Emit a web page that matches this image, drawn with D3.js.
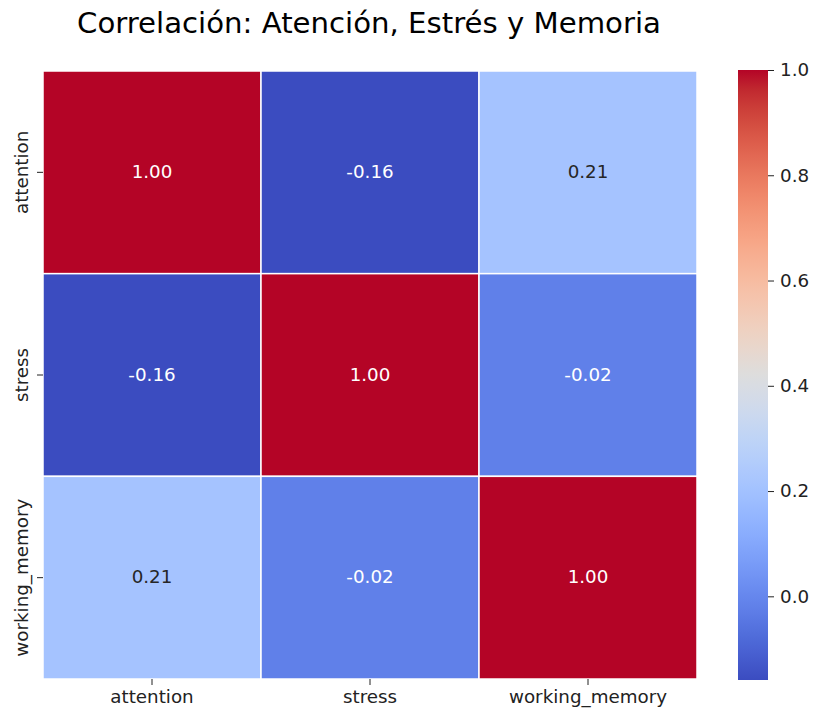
<!DOCTYPE html>
<html><head><meta charset="utf-8">
<script src="https://cdn.jsdelivr.net/npm/d3@7/dist/d3.min.js"></script>
<style>body{margin:0;background:#fff}svg{display:block;font-family:"DejaVu Sans",sans-serif}</style>
</head><body><svg id="c" width="815" height="713"></svg>
<script>
const title = "Correlación: Atención, Estrés y Memoria";
const variables = ["attention", "stress", "working_memory"];
const rowAttention = [1.00, -0.16, 0.21];
const rowStress = [-0.16, 1.00, -0.02];
const rowMemory = [0.21, -0.02, 1.00];
const matrix = [rowAttention, rowStress, rowMemory];
const vmin = -0.159, vmax = 1.0;
const cbarTicks = [0.0, 0.2, 0.4, 0.6, 0.8, 1.0];

// matplotlib coolwarm control points
const cwR=[0.2298057,0.26623388,0.30386891,0.342804478,0.38301334,0.424369608,0.46666708,0.509635204,0.552953156,0.596262162,0.639176211,0.681291281,0.722193294,0.761464949,0.798691636,0.833466556,0.865395197,0.897787179,0.924127593,0.944468518,0.958852946,0.96732803,0.969954137,0.966811177,0.958003065,0.943660866,0.923944917,0.89904617,0.869186849,0.834620542,0.795631745,0.752534934,0.705673158];
const cwG=[0.298717966,0.353094838,0.406535296,0.458757618,0.50941904,0.558148092,0.604562568,0.648280772,0.688929332,0.726149107,0.759599947,0.788964712,0.813952739,0.834302879,0.849786142,0.860207984,0.86541021,0.848937047,0.827384882,0.800927443,0.769767752,0.734132809,0.694266682,0.650421156,0.602842431,0.551750968,0.49730856,0.439559467,0.378313092,0.312874446,0.24128379,0.157246067,0.01555616];
const cwB=[0.753683153,0.801466763,0.84495867,0.883725899,0.917387822,0.945619588,0.968154911,0.98478814,0.995375608,0.999836203,0.998151185,0.990363227,0.976574709,0.956945269,0.931688648,0.901068838,0.865395561,0.820880546,0.774508472,0.726736146,0.678007945,0.628751763,0.579375448,0.530263762,0.481775914,0.434243684,0.387970225,0.343229596,0.300267182,0.259301199,0.220525627,0.184115123,0.150232812];
const cwStops = cwR.map((r,i)=>d3.rgb(r*255,cwG[i]*255,cwB[i]*255).formatHex());
const coolwarm = d3.scaleLinear().domain(d3.range(33).map(i=>i/32)).range(cwStops).interpolate(d3.interpolateRgb).clamp(true);
const norm = d3.scaleLinear().domain([vmin, vmax]).range([0,1]).clamp(true);
const color = v => coolwarm(norm(v));
const fmt2 = v => d3.format(".2f")(v).replace("\u2212","-");

const svg = d3.select("#c");
const L=43, R=697, T=71, B=679;
const FS = 18.3;
const x = d3.scaleBand().domain(variables).range([L,R]);
const y = d3.scaleBand().domain(variables).range([T,B]);

svg.append("text").attr("x",369).attr("y",33).attr("text-anchor","middle")
  .attr("font-size",29.2).attr("fill","#000").text(title);

const cells=[];
matrix.forEach((row,i)=>row.forEach((v,j)=>cells.push({r:variables[i],c:variables[j],v})));
svg.append("g").selectAll("rect").data(cells).join("rect")
  .attr("x",d=>x(d.c)).attr("y",d=>y(d.r)).attr("width",x.bandwidth()).attr("height",y.bandwidth())
  .attr("fill",d=>color(d.v)).attr("stroke","#fff").attr("stroke-width",1.5);

function lum(c){const r=d3.rgb(c);const f=u=>{u/=255;return u<=0.03928?u/12.92:Math.pow((u+0.055)/1.055,2.4)};return 0.2126*f(r.r)+0.7152*f(r.g)+0.0722*f(r.b);}
svg.append("g").selectAll("text").data(cells).join("text")
  .attr("x",d=>x(d.c)+x.bandwidth()/2).attr("y",d=>y(d.r)+y.bandwidth()/2-1)
  .attr("text-anchor","middle").attr("dominant-baseline","central").attr("font-size",FS)
  .attr("fill",d=>lum(color(d.v))>0.408?"#262626":"#ffffff").text(d=>fmt2(d.v));

// axes
const xa = svg.append("g").attr("transform",`translate(0,${B})`).call(d3.axisBottom(x).tickSize(6).tickPadding(5));
const ya = svg.append("g").attr("transform",`translate(${L},0)`).call(d3.axisLeft(y).tickSize(6).tickPadding(6));
[xa,ya].forEach(a=>{a.select(".domain").remove();a.selectAll("line").attr("stroke","#222").attr("stroke-width",1);
  a.selectAll("text").attr("font-size",FS).attr("fill","#222").attr("font-family","DejaVu Sans");});
ya.selectAll(".tick text").each(function(){
  d3.select(this).attr("x",null).attr("dy",null).attr("text-anchor","middle")
   .attr("dominant-baseline","central")
   .attr("transform","translate(-22,0) rotate(-90)");
});

// colorbar
const cbX=738, cbW=30, cbT=70, cbB=680;
const cy = d3.scaleLinear().domain([vmin,vmax]).range([cbB,cbT]);
const defs = svg.append("defs");
const grad = defs.append("linearGradient").attr("id","cw").attr("x1",0).attr("y1",1).attr("x2",0).attr("y2",0);
d3.range(0,65).forEach(i=>{const t=i/64;grad.append("stop").attr("offset",t).attr("stop-color",coolwarm(t));});
svg.append("rect").attr("x",cbX).attr("y",cbT).attr("width",cbW).attr("height",cbB-cbT).attr("fill","url(#cw)");
const ca = svg.append("g").attr("transform",`translate(${cbX+cbW},0)`).call(d3.axisRight(cy).tickValues(cbarTicks).tickFormat(d=>d3.format(".1f")(d).replace("\u2212","-")).tickSize(6).tickPadding(6));
ca.select(".domain").remove();
ca.selectAll("line").attr("stroke","#222");
ca.selectAll("text").attr("font-size",FS).attr("fill","#222").attr("font-family","DejaVu Sans");
</script></body></html>
